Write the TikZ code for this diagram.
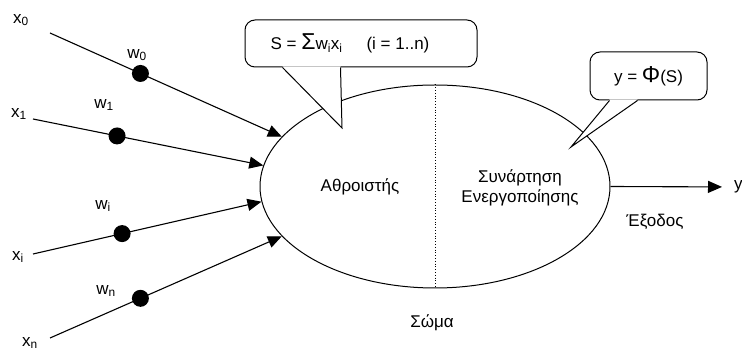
\documentclass[tikz,border=0pt]{standalone}
\usepackage{fontspec}
\setmainfont{Liberation Sans}
\usetikzlibrary{shapes.geometric,arrows.meta}

\newcommand{\bigsym}[1]{{\fontsize{23}{20}\selectfont #1}}

\begin{document}
\begin{tikzpicture}[
    x=1pt, y=-1pt,
    >={Triangle[length=14pt,width=12pt]},
    every node/.style={font=\fontsize{17}{20}\selectfont},
    arrow/.style={->, line width=1.1pt, draw=black},
    weight/.style={circle, fill=black, minimum size=17pt, inner sep=0pt},
    bubble/.style={draw, fill=white, rounded corners=10pt, line width=1pt, align=center, inner sep=0pt}
]
  \useasboundingbox (0,0) rectangle (742,352);

  \node (body) [draw, ellipse, line width=1pt, minimum width=350pt, minimum height=203pt, inner sep=0pt] at (435,186.5) {};
  \draw[dotted, line width=0.8pt] (body.north) -- (body.south);

  \node (adder) at (360,187) {Αθροιστής};
  \node (activ) [align=center] at (520,188) {Συνάρτηση\\Ενεργοποίησης};
  \node (soma) at (432,323) {Σώμα};
  \node (exodos) at (655,222) {Έξοδος};

  % Inputs
  \node (x0) at (21,20) {x\textsubscript{0}};
  \node (x1) at (19,114) {x\textsubscript{1}};
  \node (xi) at (18,257) {x\textsubscript{i}};
  \node (xn) at (30,343) {x\textsubscript{n}};
  \coordinate (s0) at (50,33);
  \coordinate (s1) at (33,119);
  \coordinate (si) at (33,254);
  \coordinate (sn) at (50,338);

  \draw[arrow] (s0) -- (body.162) node[weight, pos=0.39] (d0) {};
  \draw[arrow] (s1) -- (body.173.5) node[weight, pos=0.365] (d1) {};
  \draw[arrow] (si) -- (body.185.5) node[weight, pos=0.39] (di) {};
  \draw[arrow] (sn) -- (body.198.5) node[weight, pos=0.39] (dn) {};

  \node (w0) at (137,55) {w\textsubscript{0}};
  \node (w1) at (104,105) {w\textsubscript{1}};
  \node (wi) at (103,206) {w\textsubscript{i}};
  \node (wn) at (106,291) {w\textsubscript{n}};

  % Output
  \node (out) [anchor=west, inner xsep=12pt, inner ysep=0pt] at (722,187) {y};
  \draw[arrow] (body.east) -- (out);

  % Callouts
  \node (sumbox) [bubble, minimum width=232pt, minimum height=47pt] at (361,43.5)
    {S = \bigsym{Σ}w\textsubscript{i}x\textsubscript{i}\hspace{24pt}(i = 1..n)\hspace{22pt}};
  \coordinate (sumtip) at (342,128);
  \fill[white] ([xshift=38pt,yshift=1pt]sumbox.south west) -- (sumtip) -- ([xshift=96pt,yshift=1pt]sumbox.south west) -- cycle;
  \draw[line width=1pt] ([xshift=38pt]sumbox.south west) -- (sumtip) -- ([xshift=96pt]sumbox.south west);

  \node (phibox) [bubble, minimum width=117pt, minimum height=48pt] at (648.5,76) {y = \bigsym{Φ}(S)};
  \coordinate (phitip) at (571,147);
  \fill[white] ([xshift=20pt,yshift=1pt]phibox.south west) -- (phitip) -- ([xshift=48pt,yshift=1pt]phibox.south west) -- cycle;
  \draw[line width=1pt] ([xshift=20pt]phibox.south west) -- (phitip) -- ([xshift=48pt]phibox.south west);
\end{tikzpicture}
\end{document}
